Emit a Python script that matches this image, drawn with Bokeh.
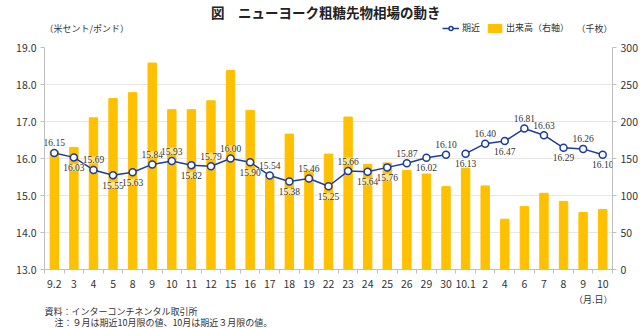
from bokeh.plotting import figure
from bokeh.layouts import column
from bokeh.models import (Range1d, LinearAxis, FixedTicker, Label, LabelSet,
                          ColumnDataSource, Legend, LegendItem, NumeralTickFormatter)
from bokeh.embed import file_html
from bokeh.resources import INLINE

# ---- data ----
dates = ["9.2", "3", "4", "5", "8", "9", "10", "11", "12", "15", "16", "17", "18", "19",
         "22", "23", "24", "25", "26", "29", "30", "10.1", "2", "4", "6", "7", "8", "9", "10"]
price = [16.15, 16.03, 15.69, 15.55, 15.63, 15.84, 15.93, 15.82, 15.79, 16.00, 15.90,
         15.54, 15.38, 15.46, 15.25, 15.66, 15.64, 15.76, 15.87, 16.02, 16.10,
         16.13, 16.40, 16.47, 16.81, 16.63, 16.29, 16.26, 16.10]
contract = ["10月限"] * 21 + ["3月限"] * 8
volume = [160, 165, 205, 231, 239, 279, 216, 216, 228, 269, 215, 129, 183, 135,
          156, 206, 142, 144, 134, 129, 112, 137, 113, 68, 85, 103, 92, 77, 81]
label_pos = ["a", "b", "a", "b", "b", "a", "a", "b", "a", "a", "b", "a", "b", "a",
             "b", "a", "b", "b", "a", "b", "a", "b", "a", "b", "a", "a", "b", "a", "b"]
left_ticks = [13, 14, 15, 16, 17, 18, 19]
right_ticks = [0, 50, 100, 150, 200, 250, 300]

FONT = "Noto Sans CJK JP"
BLUE = "#1F3C9C"
GOLD = "#FFC000"
TXT = "#333333"
AXC = "#BFBFBF"

n = len(dates)
xs = list(range(n))
series_src = ColumnDataSource(dict(x=xs, price=price, vol=volume))

# ================= header =================
HH = 40
head = figure(width=640, height=HH, output_backend="svg", toolbar_location=None,
              x_range=Range1d(0, 640), y_range=Range1d(HH, 0),
              x_axis_type=None, y_axis_type=None, min_border=0)
head.outline_line_color = None
head.grid.visible = False

def hlabel(fig, t, x, y, size="9px", bold=False, align="left", color=TXT):
    fig.add_layout(Label(x=x, y=y, text=t, text_font=FONT, text_font_size=size,
                         text_color=color, text_font_style="bold" if bold else "normal",
                         text_align=align, text_baseline="middle"))

hlabel(head, "図　ニューヨーク粗糖先物相場の動き", 317, 11, size="13.5px", bold=True, align="center", color="#222222")
hlabel(head, "（米セント/ポンド）", 0, 28)
hlabel(head, "（千枚）", 640, 28, align="right")

# hidden copies of the series, used only to draw the legend keys
lg_line = head.line("x", "price", source=series_src, line_color=BLUE, line_width=1.5, visible=False)
lg_pt = head.scatter("x", "price", source=series_src, size=7, fill_color="white",
                     line_color=BLUE, line_width=1.5, visible=False)
lg_bar = head.vbar(x="x", top="vol", width=0.43, source=series_src, fill_color=GOLD,
                   line_color=GOLD, visible=False)
legend = Legend(items=[LegendItem(label="期近", renderers=[lg_line, lg_pt]),
                       LegendItem(label="出来高（右軸）", renderers=[lg_bar])],
                orientation="horizontal", location=(398, 6),
                label_text_font=FONT, label_text_font_size="9px", label_text_color=TXT,
                glyph_width=17, glyph_height=10, label_height=12, label_width=10,
                spacing=6, padding=0, margin=0, label_standoff=3,
                border_line_color=None, background_fill_alpha=0)
head.add_layout(legend)

# ================= main chart =================
MH = 253
p = figure(width=640, height=MH, output_backend="svg", toolbar_location=None,
           x_range=Range1d(-0.5, n - 0.5), y_range=Range1d(13, 19),
           min_border_left=44, min_border_right=27, min_border_top=7, min_border_bottom=24)
p.extra_y_ranges = {"vol": Range1d(0, 300)}
p.outline_line_color = None

p.vbar(x="x", top="vol", width=0.43, source=series_src, y_range_name="vol",
       fill_color=GOLD, line_color=GOLD)

for c in ["10月限", "3月限"]:
    idx = [i for i in range(n) if contract[i] == c]
    src = ColumnDataSource(dict(x=[xs[i] for i in idx], y=[price[i] for i in idx]))
    p.line("x", "y", source=src, line_color=BLUE, line_width=1.5)
    p.scatter("x", "y", source=src, size=7, fill_color="white", line_color=BLUE, line_width=1.5)

lab_src = ColumnDataSource(dict(x=xs, y=price, t=["%.2f" % v for v in price],
                                off=[10 if q == "a" else -10 for q in label_pos]))
labels = LabelSet(x="x", y="y", text="t", y_offset="off", source=lab_src,
                  text_align="center", text_baseline="middle", text_font=FONT,
                  text_font_size="9.5px", text_color=TXT,
                  background_fill_color="white", background_fill_alpha=0.55)
p.add_layout(labels)

p.xaxis.ticker = FixedTicker(ticks=xs, minor_ticks=[i - 0.5 for i in range(n + 1)])
p.xaxis.major_label_overrides = {i: d for i, d in enumerate(dates)}
p.xaxis.major_tick_line_color = None
p.xaxis.minor_tick_line_color = AXC
p.xaxis.minor_tick_out = 4
p.xaxis.minor_tick_in = 0
p.xaxis.axis_line_color = AXC
p.xaxis.major_label_text_font = FONT
p.xaxis.major_label_text_font_size = "10.5px"
p.xaxis.major_label_text_color = TXT
p.xaxis.major_label_standoff = 4

p.yaxis.ticker = FixedTicker(ticks=left_ticks)
p.yaxis.formatter = NumeralTickFormatter(format="0.0")

right = LinearAxis(y_range_name="vol", ticker=FixedTicker(ticks=right_ticks))
p.add_layout(right, "right")

for ax in [p.yaxis[0], right]:
    ax.axis_line_color = AXC
    ax.major_tick_line_color = AXC
    ax.major_tick_out = 4
    ax.major_tick_in = 0
    ax.minor_tick_line_color = None
    ax.major_label_text_font = FONT
    ax.major_label_text_font_size = "10.5px"
    ax.major_label_text_color = TXT
    ax.major_label_standoff = 4

p.xgrid.grid_line_color = None
p.ygrid.ticker = FixedTicker(ticks=left_ticks)
p.ygrid.grid_line_color = "#E6E6E6"

# ================= footer =================
FH = 328 - HH - MH
foot = figure(width=640, height=FH, output_backend="svg", toolbar_location=None,
              x_range=Range1d(0, 640), y_range=Range1d(FH, 0),
              x_axis_type=None, y_axis_type=None, min_border=0)
foot.outline_line_color = None
foot.grid.visible = False
hlabel(foot, "（月.日）", 640, 5.5, align="right")
hlabel(foot, "資料：インターコンチネンタル取引所", 0, 17.5)
hlabel(foot, "　注：９月は期近10月限の値、10月は期近３月限の値。", 1, 29)

layout = column(head, p, foot, spacing=0)
open("out.html", "w").write(file_html(layout, INLINE))
